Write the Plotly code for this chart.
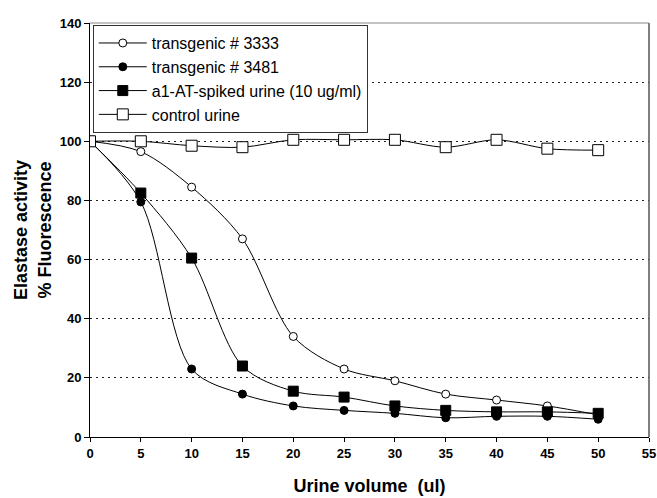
import plotly.graph_objects as go

volume = [0, 5, 10, 15, 20, 25, 30, 35, 40, 45, 50]
tg3333 = [100, 96.5, 84.5, 67, 34, 23, 19, 14.5, 12.5, 10.5, 7.5]
tg3481 = [100, 79.5, 23, 14.5, 10.5, 9, 8, 6.5, 7, 7, 6]
spiked = [100, 82.5, 60.5, 24, 15.5, 13.5, 10.5, 9, 8.5, 8.5, 8]
control = [100, 100, 98.5, 98, 100.5, 100.5, 100.5, 98, 100.5, 97.5, 97]

x_ticks = list(range(0, 56, 5))
y_ticks = list(range(0, 141, 20))

series = [
    ("transgenic # 3333", tg3333, "circle", False, 8),
    ("transgenic # 3481", tg3481, "circle", True, 8),
    ("a1-AT-spiked urine (10 ug/ml)", spiked, "square", True, 10),
    ("control urine", control, "square", False, 11),
]

fig = go.Figure()
for name, vals, sym, filled, sz in series:
    fig.add_trace(go.Scatter(
        x=volume, y=vals, name=name, mode="lines+markers",
        line=dict(color="black", width=1, shape="spline", smoothing=0.9),
        marker=dict(symbol=sym, size=sz,
                    color="black" if filled else "white",
                    line=dict(color="black", width=1)),
    ))

font_b = "Liberation Sans"
fig.update_layout(
    width=657, height=498,
    margin=dict(l=90, r=8, t=23, b=61, autoexpand=False),
    paper_bgcolor="white", plot_bgcolor="white",
    showlegend=True,
    legend=dict(x=0.005, y=0.995, xanchor="left", yanchor="top",
                bgcolor="white", bordercolor="#333", borderwidth=1,
                font=dict(family=font_b, size=16, color="black"),
                tracegroupgap=0, itemwidth=48),
    font=dict(family=font_b, color="black"),
)
fig.update_xaxes(
    range=[0, 55], tickvals=x_ticks,
    tickfont=dict(family=font_b, size=13, weight="bold"),
    ticklabeloverflow="allow", automargin=False,
    ticks="outside", ticklen=4, tickcolor="black",
    showline=True, linecolor="black", linewidth=1, mirror=False,
    showgrid=False, zeroline=False,
    title=dict(text="Urine volume  (ul)", font=dict(family=font_b, size=18, weight="bold"), standoff=19),
)
fig.update_yaxes(
    range=[0, 140], tickvals=y_ticks,
    tickfont=dict(family=font_b, size=13, weight="bold"),
    ticks="outside", ticklen=5, tickcolor="black",
    showline=True, linecolor="black", linewidth=1,
    showgrid=True, gridcolor="#222", griddash="2px,4px", gridwidth=1,
    zeroline=False,
    title=dict(text="Elastase activity<br>% Fluorescence", font=dict(family=font_b, size=18, weight="bold"), standoff=3),
)
# right and top frame
fig.add_shape(type="line", xref="paper", yref="paper", x0=1, x1=1, y0=0, y1=1,
              line=dict(color="#555", width=1.5))
fig.add_shape(type="line", xref="paper", yref="paper", x0=0, x1=1, y0=1, y1=1,
              line=dict(color="#888", width=1))
fig.write_html("out.html", config={"displayModeBar": False},
               post_script="document.body.style.margin='0';document.body.style.overflow='hidden';")
